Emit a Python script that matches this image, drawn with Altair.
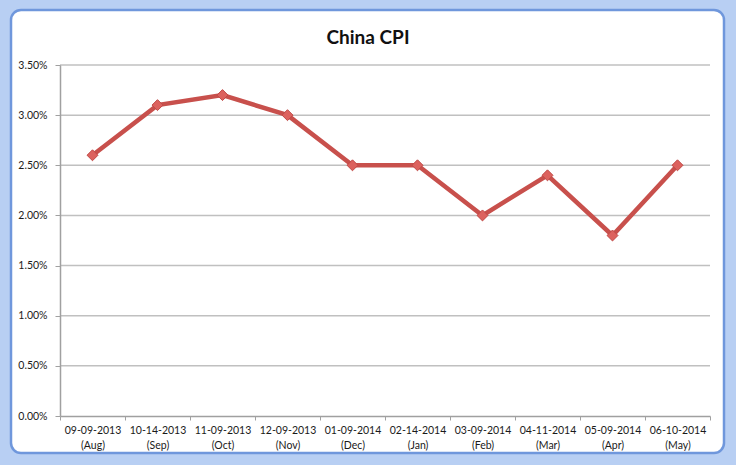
import altair as alt
import pandas as pd

dates = ["09-09-2013", "10-14-2013", "11-09-2013", "12-09-2013", "01-09-2014",
         "02-14-2014", "03-09-2014", "04-11-2014", "05-09-2014", "06-10-2014"]
months = ["(Aug)", "(Sep)", "(Oct)", "(Nov)", "(Dec)",
          "(Jan)", "(Feb)", "(Mar)", "(Apr)", "(May)"]
cpi = [0.026, 0.031, 0.032, 0.030, 0.025, 0.025, 0.020, 0.024, 0.018, 0.025]
y_ticks = [0, 0.005, 0.01, 0.015, 0.02, 0.025, 0.03, 0.035]
title_text = "China CPI"

labels = [f"{d} {m}" for d, m in zip(dates, months)]
df = pd.DataFrame({"label": labels, "cpi": cpi})
grid_df = pd.DataFrame({"v": y_ticks[1:]})

W, H = 650, 351
FONT = "Lato"

frame = alt.Chart(pd.DataFrame({"a": [0]})).mark_rect(
    fill="white", stroke="#6f97dc", strokeWidth=2.5, cornerRadius=10
).encode(
    x=alt.value(-49), x2=alt.value(W + 14),
    y=alt.value(-55), y2=alt.value(H + 37),
)

title = alt.Chart(pd.DataFrame({"t": [title_text]})).mark_text(
    font=FONT, fontSize=19, fontWeight="bold", color="#111111",
    align="center", baseline="middle"
).encode(text="t:N", x=alt.value(308), y=alt.value(-27))

x_enc = alt.X(
    "label:N", sort=labels, title=None,
    scale=alt.Scale(type="band", paddingInner=0, paddingOuter=0),
    axis=alt.Axis(
        labelExpr="split(datum.label, ' ')",
        labelAngle=0, labelFont=FONT, labelFontSize=10.5, labelColor="#1a1a1a",
        labelPadding=5, labelLineHeight=15,
        tickBand="extent", tickSize=4, tickColor="#a0a0a0",
        domainColor="#a0a0a0", domainWidth=1.5, grid=False, zindex=1,
    ),
    bandPosition=0.5,
)
y_enc = alt.Y(
    "cpi:Q", title=None,
    scale=alt.Scale(domain=[0, 0.035], nice=False),
    axis=alt.Axis(
        values=y_ticks, format=".2%",
        labelFont=FONT, labelFontSize=10.5, labelColor="#1a1a1a", labelPadding=8,
        tickSize=5, tickColor="#a0a0a0",
        domainColor="#a0a0a0", domainWidth=1.5,
        grid=False, zindex=1,
    ),
)

grid = alt.Chart(grid_df).mark_rule(color="#c0c0c0", strokeWidth=1.5).encode(
    y=alt.Y("v:Q"), x=alt.value(0), x2=alt.value(W)
)

line = alt.Chart(df).mark_line(color="#c8504c", strokeWidth=4.5).encode(x=x_enc, y=y_enc)
pts = alt.Chart(df).mark_point(
    shape="diamond", filled=True, fill="#dc625e", stroke="#c04a47",
    strokeWidth=1, size=120, opacity=1
).encode(x=x_enc, y=y_enc)

chart = alt.layer(frame, title, grid, line, pts).properties(
    width=W, height=H,
    background="#b8cff3",
    padding={"left": 60, "top": 65, "right": 26, "bottom": 49},
    autosize=alt.AutoSizeParams(type="none"),
).configure_view(stroke=None)

chart.save("out.html", embed_options={"renderer": "svg", "actions": False})
